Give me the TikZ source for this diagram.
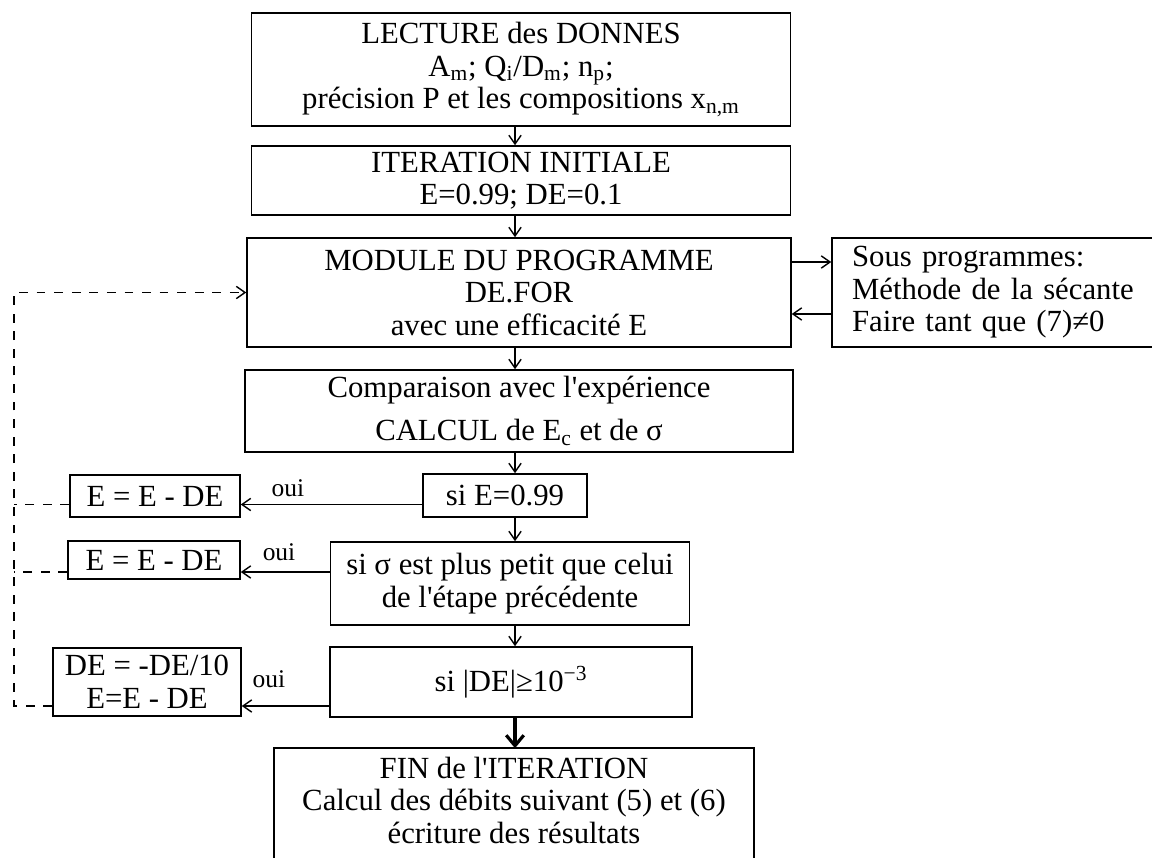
\documentclass[tikz,border=0pt]{standalone}
\usepackage{fontspec}
\setmainfont{Liberation Serif}[Ligatures=TeXOff]
\usetikzlibrary{positioning, arrows.meta}

\begin{document}
\begin{tikzpicture}[x=0.02cm, y=-0.02cm, every node/.style={inner sep=2pt},
  box/.style={draw, line width=0.9pt, align=center, font=\fontsize{17.5}{18.5}\selectfont},
  oui/.style={font=\fontsize{14.5}{16}\selectfont, inner sep=1pt},
  arrow/.style={-{Straight Barb[length=5pt,width=7pt]}, line width=0.8pt},
  bigarrow/.style={-{Straight Barb[length=6pt,width=10pt,line width=1.8pt]}, line width=2.2pt},
  loopline/.style={dash pattern=on 5pt off 5pt, line width=0.8pt}]
\path[fill=white, use as bounding box] (0,0) rectangle (1152,858);
\coordinate (axis) at (515,0);
\coordinate (rail) at (14,0);
% main column
\node[box, minimum width=10.78cm, minimum height=2.26cm] (lecture) at (521,69.5)
  {LECTURE des DONNES\\ A\textsubscript{m}; Q\textsubscript{i}/D\textsubscript{m}; n\textsubscript{p};\\
   précision P et les compositions x\textsubscript{n,m}};
\node[box, minimum width=10.78cm, minimum height=1.38cm] (init) at (521,180.5)
  {ITERATION INITIALE\\ E=0.99; DE=0.1};
\node[box, minimum width=10.88cm, minimum height=2.18cm] (module) at (519,292.5)
  {MODULE DU PROGRAMME\\ DE.FOR\\ avec une efficacité E};
\node[box, minimum width=10.96cm, minimum height=1.64cm] (compar) at (519,411)
  {Comparaison avec l'expérience\\[6pt] CALCUL de E\textsubscript{c} et de σ};
\node[box, minimum width=3.28cm, minimum height=0.86cm] (cond1) at (505,495.5) {si E=0.99};
\node[box, minimum width=7.18cm, minimum height=1.66cm] (cond2) at (510,583.5)
  {si σ est plus petit que celui\\ de l'étape précédente};
\node[box, minimum width=7.24cm, minimum height=1.40cm] (cond3) at (511,682)
  {si |DE|≥10\textsuperscript{−3}};
\node[box, draw=none, minimum width=9.56cm, minimum height=2.04cm] (fin) at (514,800)
  {FIN de l'ITERATION\\ Calcul des débits suivant (5) et (6)\\ écriture des résultats};
\draw[line width=0.9pt] ([yshift=-1cm]fin.south west) -- (fin.north west)
  -- (fin.north east) -- ([yshift=-1cm]fin.south east);
% side box
\node[box, align=left, text width=5.76cm, inner xsep=0.4cm, minimum height=2.18cm] (sous) at (996,292.5)
  {Sous programmes:\\ Méthode de la sécante\\ Faire tant que (7)≠0};
% left boxes
\node[box, minimum width=3.40cm, minimum height=0.84cm] (pas1) at (155,496) {E = E - DE};
\node[box, minimum width=3.44cm, minimum height=0.76cm] (pas2) at (154,560) {E = E - DE};
\node[box, minimum width=3.76cm, minimum height=1.36cm] (pas3) at (147,682) {DE = -DE/10\\ E=E - DE};
\coordinate (c1) at ([yshift=-0.18cm]cond1.west);
\coordinate (c2) at ([yshift=0.23cm]cond2.west);
\coordinate (c3) at ([yshift=-0.48cm]cond3.west);

% connectors
\draw[arrow] (lecture.south -| axis) -- (init.north -| axis);
\draw[arrow] (init.south -| axis) -- (module.north -| axis);
\draw[arrow] (module.south -| axis) -- (compar.north -| axis);
\draw[arrow] (compar.south -| axis) -- (cond1.north -| axis);
\draw[arrow] (cond1.south -| axis) -- (cond2.north -| axis);
\draw[arrow] (cond2.south -| axis) -- (cond3.north -| axis);
\draw[bigarrow] (cond3.south -| axis) -- (fin.north -| axis);
\draw[arrow] ([yshift=0.61cm]module.east) -- ([yshift=0.61cm]sous.west);
\draw[arrow] ([yshift=-0.43cm]sous.west) -- ([yshift=-0.43cm]module.east);
\draw[arrow] (c1) -- (c1 -| pas1.east) node[oui, pos=0.74, above=3pt] {oui};
\draw[arrow] (c2) -- (c2 -| pas2.east) node[oui, pos=0.57, above=5pt] {oui};
\draw[arrow] (c3) -- (c3 -| pas3.east) node[oui, pos=0.69, above=9pt] {oui};
% dashed return
\draw[loopline] (c1 -| pas1.west) -- (c1 -| rail);
\draw[loopline] (c2 -| pas2.west) -- (c2 -| rail);
\draw[loopline, arrow] (c3 -| pas3.west) -- (c3 -| rail) -- (module.west -| rail) -- (module.west);
\end{tikzpicture}
\end{document}
